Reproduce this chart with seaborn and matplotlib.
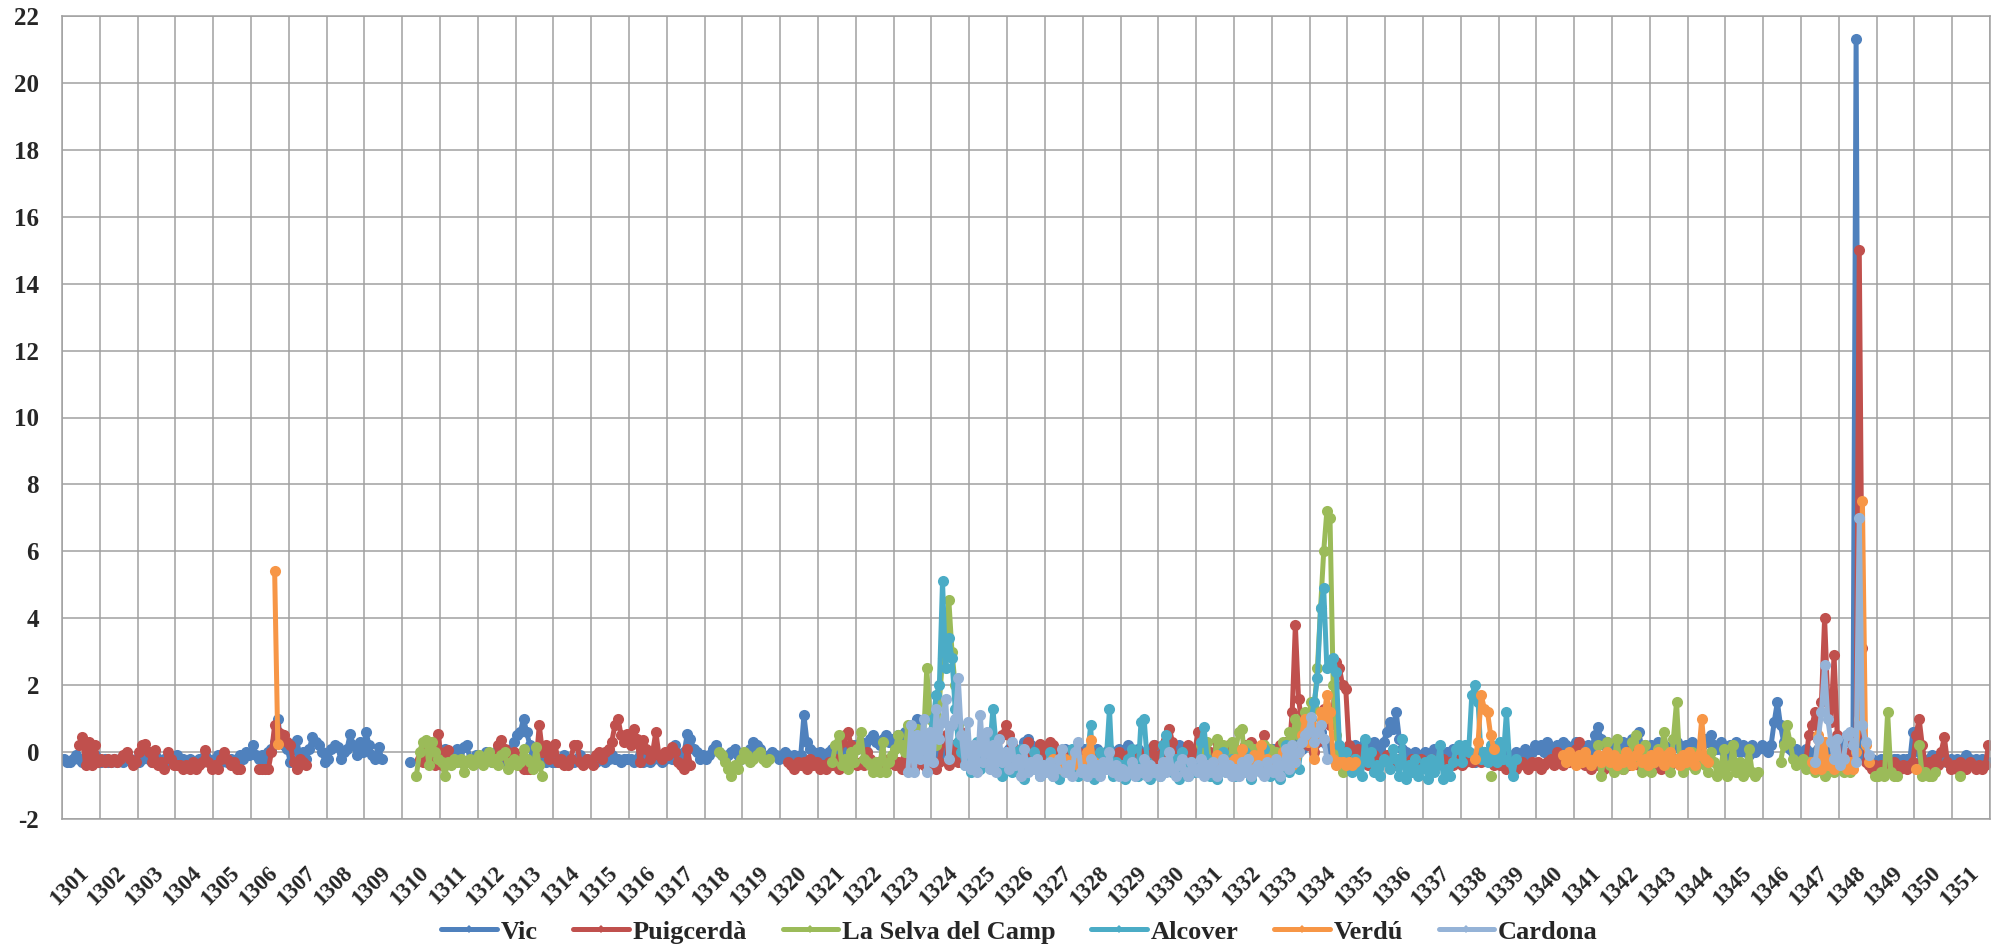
import numpy as np
import pandas as pd
import matplotlib
matplotlib.use("Agg")
import matplotlib.pyplot as plt
import seaborn as sns
from matplotlib.lines import Line2D

# monthly values, one list per continuous run: (first month, values)
vic = [
    ("1301-01", [
        -0.2, -0.3, -0.3, -0.2, -0.1, -0.2, -0.3, -0.2, -0.3, -0.2, -0.1, -0.3,
        -0.3, -0.2, -0.3, -0.3, -0.2, -0.3, -0.2, -0.3, -0.1, -0.2, -0.3, -0.2,
        -0.3, -0.2, -0.1, -0.2, -0.3, -0.1, -0.2, -0.3, -0.2, -0.3, -0.2, -0.3,
        -0.1, -0.3, -0.2, -0.3, -0.2, -0.4, -0.3, -0.2, -0.3, -0.1, -0.2, -0.3,
        -0.2, -0.1, -0.3, -0.2, -0.3, -0.2, -0.3, -0.2, -0.1, -0.2, 0.0, -0.1,
        0.2, -0.1, -0.2, -0.1, -0.2, 0.0, 0.1, 0.3, 1.0, 0.3, 0.2, 0.1,
        -0.3, 0.1, 0.35, -0.1, 0.0, -0.2, 0.1, 0.45, 0.3, 0.2, 0.0, -0.3,
        -0.2, 0.1, 0.2, 0.15, -0.2, 0.0, 0.1, 0.55, 0.2, -0.1, 0.3, 0.0,
        0.6, 0.2, -0.1, -0.2, 0.15, -0.2]),
    ("1310-03", [-0.3]),
    ("1310-11", [
        -0.2, -0.1,
        0.0, 0.1, -0.2, -0.3, -0.1, 0.1, -0.3, 0.15, 0.2, -0.2, -0.3, -0.1,
        -0.3, -0.2, 0.0, -0.1, -0.3, -0.2, 0.1, -0.1, -0.3, -0.2, 0.1, 0.3,
        0.5, 0.6, 1.0, 0.6, 0.2, -0.3, -0.2, -0.3, -0.1, -0.3, -0.2, -0.3,
        -0.3, -0.2, -0.3, -0.1, -0.3, -0.2, -0.3, -0.2, -0.1, -0.3, -0.2, -0.3,
        -0.2, -0.3, -0.1, -0.2, -0.3, -0.2, -0.1, -0.2, -0.2, -0.3, -0.2, -0.2,
        -0.2, -0.3, -0.2, -0.1, -0.3, -0.2, -0.3, -0.2, -0.1, -0.2, -0.3, -0.2,
        -0.1, -0.2, 0.2, -0.1, -0.2, 0.0, 0.55, 0.4, 0.1, 0.0, -0.2, -0.1,
        -0.2, -0.1, 0.1, 0.2, 0.0, -0.1, -0.2, -0.1, 0.0, 0.1, -0.1, -0.2,
        -0.1, 0.0, 0.1, 0.3, 0.2, 0.1, -0.1, -0.2, -0.1, 0.0, -0.1, -0.2,
        -0.1, 0.0, -0.1, -0.2, -0.1, -0.2, -0.1, 1.1, 0.3, 0.1, 0.0, -0.1,
        0.0, -0.2, -0.1, 0.0, 0.1, -0.1, 0.0, 0.2, 0.0, -0.1, 0.1, 0.2,
        0.1, 0.3, 0.2, 0.0, 0.4, 0.5, 0.3, 0.2, 0.4, 0.5, 0.3, 0.4,
        0.3, 0.5, 0.4, 0.6, 0.5, 0.8, 0.6, 1.0, 0.7, 0.3, 0.1, 0.0,
        0.2, 0.1, -0.1, 0.0, 0.1, 0.2, 0.0, -0.1, 0.1, 0.0, -0.1, 0.0,
        0.1, -0.1, 0.0, 0.2, 0.1, 0.0, -0.1, 0.0, 0.1, 0.0, -0.1, 0.0,
        0.1, 0.2, 0.0, -0.1, 0.1, 0.3, 0.4, 0.2, 0.0, 0.1, -0.1, 0.0,
        -0.1, 0.1, 0.0, -0.2, -0.1, 0.0, 0.1, -0.1, 0.0, -0.2, -0.1, 0.0,
        0.1, -0.1, -0.2, 0.0, 0.1, -0.1, -0.2, 0.0, 0.1, 0.0, -0.1, 0.1,
        0.0, -0.1, 0.2, 0.0, -0.1, 0.1, 0.0, -0.2, 0.0, 0.1, 0.2, 0.1,
        0.0, 0.2, 0.1, 0.0, -0.1, 0.1, 0.2, 0.0, -0.1, 0.0, 0.1, 0.0,
        -0.1, 0.1, 0.2, 0.0, -0.2, -0.1, 0.0, 0.1, 0.0, -0.1, 0.0, 0.1,
        0.0, -0.1, 0.0, 0.1, 0.2, 0.0, -0.1, 0.0, 0.1, 0.0, -0.1, 0.0,
        0.1, 0.0, -0.1, 0.1, 0.2, 0.0, 0.1, 0.3, 0.2, 0.1, 0.4, 0.5,
        0.3, 0.2, 0.4, 0.6, 0.3, 0.2, 0.1, 0.0, -0.1, 0.0, 0.1, 0.0,
        -0.1, 0.1, 0.2, 0.0, -0.1, 0.3, 0.2, 0.1, 0.3, 0.2, 0.1, 0.3,
        0.6, 0.9, 0.7, 1.2, 0.4, 0.1, 0.0, -0.2, -0.1, 0.0, -0.2, -0.1,
        0.0, -0.2, -0.1, 0.1, 0.0, -0.1, -0.2, 0.0, -0.1, 0.1, 0.0, -0.1,
        -0.2, -0.1, 0.0, -0.2, -0.3, -0.1, 0.0, -0.2, -0.1, 0.0, -0.2, -0.1,
        -0.2, -0.1, -0.3, -0.2, -0.1, 0.0, -0.2, -0.1, 0.1, -0.1, 0.0, 0.2,
        0.1, 0.2, 0.0, 0.3, 0.1, 0.0, 0.2, 0.1, 0.3, 0.2, 0.0, 0.1,
        0.3, 0.2, 0.0, 0.1, 0.2, 0.0, 0.5, 0.75, 0.4, 0.2, 0.3, 0.1,
        0.0, 0.2, 0.1, 0.3, 0.0, 0.2, 0.4, 0.3, 0.6, 0.1, 0.2, 0.0,
        0.2, 0.1, 0.3, 0.0, 0.2, 0.1, -0.1, 0.2, 0.3, 0.1, 0.0, 0.2,
        0.1, 0.3, 0.2, 0.0, 0.2, 0.4, 0.3, 0.5, 0.2, 0.1, 0.3, 0.0,
        -0.1, 0.2, 0.1, 0.3, 0.0, 0.2, 0.1, -0.1, 0.2, 0.0, 0.1, 0.2,
        0.1, 0.0, 0.2, 0.9, 1.5, 0.8, 0.3, 0.2, 0.1, 0.0, 0.1, 0.0,
        0.0, 0.1, 0.0, -0.1, 0.0, 0.1, 0.0, 0.2, 0.1, 0.0, 0.2, 0.1,
        0.2, 0.3, 0.5, 0.3, 0.4, 21.3, 0.6, -0.1, -0.2, -0.2, -0.2, -0.3,
        -0.3, -0.2, -0.3, -0.2, -0.3, -0.2, -0.2, -0.3, -0.2, -0.2, -0.3, 0.6,
        0.3, 0.0, -0.2, -0.3, -0.2, -0.1, -0.3, -0.2, -0.3, -0.2, -0.3, -0.2,
        -0.3, -0.2, -0.3, -0.2, -0.1, -0.2, -0.3, -0.2, -0.3, -0.2, -0.3, -0.3]),
]

puigcerda = [
    ("1301-06", [
        0.2, 0.45, -0.4, 0.3, -0.4, 0.2, -0.3,
        -0.2, -0.3, -0.2, -0.3, -0.2, -0.3, -0.2, -0.1, 0.0, -0.2, -0.4, -0.3,
        0.0, 0.2, 0.25, 0.0, -0.3, 0.05, -0.4, -0.3, -0.5, 0.0, -0.2, -0.4,
        -0.4, -0.4, -0.5, -0.4, -0.5, -0.3, -0.5, -0.4, -0.3, 0.05, -0.3, -0.5,
        -0.4, -0.5, -0.2, 0.0, -0.2, -0.4, -0.3, -0.5, -0.5]),
    ("1306-03", [
        -0.5, -0.5, -0.5, -0.5, 0.0, 0.8, 0.6, 0.55, 0.5, 0.3,
        0.2, -0.3, -0.5, -0.2, -0.3, -0.4]),
    ("1310-06", [
        -0.2, -0.3, 0.2, -0.3, 0.3, -0.4, 0.55,
        -0.4, 0.0, 0.05, -0.3]),
    ("1312-06", [
        -0.2, 0.2, 0.35, 0.1, -0.2, -0.3, 0.0,
        -0.2, -0.4, -0.5, -0.5, -0.5, -0.4, -0.3, 0.8, 0.0, 0.2, -0.2, 0.0,
        0.25, -0.3, -0.2, -0.4, -0.4, -0.2, 0.2, 0.2, -0.3, -0.4, -0.2, -0.3,
        -0.4, -0.1, 0.0, -0.2, 0.0, 0.1, 0.3, 0.8, 1.0, 0.5, 0.3, 0.55,
        0.2, 0.7, 0.4, -0.3, 0.35, 0.1, -0.2, 0.0, 0.6, -0.1, -0.2, 0.0,
        -0.1, 0.15, 0.0, -0.3, -0.4, -0.5, 0.1, -0.4]),
    ("1320-03", [
        -0.3, -0.4, -0.5, -0.3, -0.4, -0.3, -0.5, -0.2, -0.4, -0.3,
        -0.5, -0.4, -0.5, -0.3, -0.4, -0.2, -0.5, 0.3, 0.5, 0.6, 0.2, -0.3,
        -0.4, -0.3, -0.4, 0.0, -0.2, -0.4, -0.3, -0.5, -0.2, -0.4, -0.3, -0.2,
        -0.4, -0.3, -0.5, -0.2, 0.0, -0.4, -0.5, -0.3, 0.2, -0.4, -0.5, 0.0,
        -0.4, -0.5, -0.3, 0.3, 0.5, -0.4, 0.2, 0.0, -0.3, 0.6, -0.1, -0.3,
        -0.2, 0.1, -0.4, -0.2, 0.3, -0.1, 0.2, -0.3, 0.0, 0.4, 0.5, 0.8,
        0.5, 0.2, -0.3, 0.0, -0.2, 0.1, 0.3, -0.1, -0.3, 0.0, 0.25, 0.1,
        -0.2, 0.3, 0.2, -0.1, -0.3, 0.0, -0.2, -0.4, -0.1, -0.3, 0.0, -0.2,
        -0.4, -0.3, 0.0, -0.2, -0.4, -0.1, -0.3, -0.2, -0.4, -0.1, -0.3, 0.0,
        -0.2, -0.4, -0.1, -0.3, -0.2, 0.0, -0.4, -0.2, -0.3, -0.1, 0.2, -0.3,
        -0.1, 0.2, 0.35, 0.7, 0.3, -0.2, -0.3, 0.0, -0.2, 0.2, 0.0, -0.1,
        0.6, 0.2, -0.1, -0.3, 0.0, -0.2, 0.3, -0.1, -0.3, 0.0, 0.2, -0.2,
        0.1, -0.3, 0.0, 0.2, -0.1, 0.3, 0.0, -0.2, 0.1, 0.5, 0.0, -0.2,
        0.0, -0.3, 0.2, -0.1, 0.3, 0.0, 1.2, 3.8, 1.6, 0.9, 0.6, 0.2,
        0.5, 0.0, 0.3, 0.8, 1.3, 0.9, 0.8, 1.2, 2.7, 2.5, 2.0, 1.9,
        0.2, 0.0, -0.2, 0.1, -0.3, -0.2, -0.4, -0.3, -0.1, -0.2, -0.3, -0.2,
        -0.1, -0.2, -0.3, -0.4, -0.2, -0.3, -0.4, -0.3, -0.2, -0.4, -0.3, -0.2,
        -0.3, -0.4, -0.2, -0.3, -0.4, -0.3, -0.2, -0.4, -0.3, -0.4, -0.2, -0.3,
        -0.4, -0.3, -0.2, -0.3, -0.1, -0.2, -0.3, 0.0, -0.2, -0.3, -0.4, -0.3,
        -0.4, -0.3, -0.5, -0.4, -0.3, -0.5, -0.4, -0.3, -0.4, -0.5, -0.3, -0.4,
        -0.3, -0.5, -0.4, -0.3, -0.2, -0.4, 0.0, -0.3, -0.4, -0.2, -0.3, -0.1,
        0.1, 0.3, -0.2, -0.4, -0.3, -0.5, -0.2, -0.4, -0.3, -0.5, -0.4, -0.2,
        -0.3, -0.4, -0.2, -0.5, -0.3, -0.4, 0.1, -0.3, -0.4, -0.2, -0.5, -0.3,
        -0.4, -0.2, -0.3, -0.5, -0.3, -0.2, -0.4, -0.3, -0.2, -0.4, -0.3, -0.2,
        -0.3, -0.4, -0.2, -0.3, -0.1, -0.3]),
    ("1347-01", [
        -0.2, -0.3, 0.5, 0.8, 1.2, 0.4, 1.5, 4.0, 1.6, 0.9, 2.9, 0.5,
        -0.2, -0.4, -0.3, 0.0, 0.3, 0.5, 15.0, 3.1, -0.3, -0.4, -0.5, -0.4,
        -0.5, -0.4, -0.5, -0.4, -0.5, -0.3, -0.4, -0.5, -0.4, -0.5, -0.4, -0.3,
        0.5, 1.0, 0.2, -0.4, -0.3, -0.5, -0.2, -0.4, 0.0, 0.45, -0.3, -0.5,
        -0.4, -0.5, -0.3, -0.4, -0.5, -0.3, -0.4, -0.5, -0.4, -0.5, -0.4, 0.2]),
]

la_selva = [
    ("1310-05", [
        -0.7, 0.0, 0.3, 0.35, -0.4, 0.3, 0.0, -0.2,
        -0.3, -0.7, -0.3, -0.4, -0.2, -0.3, -0.2, -0.6, -0.3, -0.2, -0.4, -0.3,
        -0.1, -0.4, -0.2, 0.0, -0.3, -0.2, -0.4, -0.1, 0.0, -0.5, -0.3, -0.2,
        -0.4, -0.3, 0.1, -0.2, -0.3, -0.5, 0.15, -0.4, -0.7]),
    ("1318-05", [
        0.0, -0.1, -0.3, -0.5, -0.7, -0.4, -0.5, -0.2,
        0.0, -0.1, -0.3, -0.2, -0.1, 0.0, -0.2, -0.3, -0.2]),
    ("1321-05", [
        -0.3, 0.2, 0.5, -0.4, -0.2, -0.5, 0.0, -0.3,
        0.1, 0.6, -0.2, -0.3, -0.4, -0.6, -0.3, -0.6, 0.3, -0.6, -0.3, -0.1,
        0.1, 0.5, 0.2, 0.0, 0.8, 0.3, 0.6, 0.7, 0.2, 0.4, 2.5, 1.0,
        0.6, 0.2, 1.5, 2.8, 3.2, 4.55, 3.0, 2.0, 0.8, 0.5, 0.3, 0.1,
        -0.1, -0.3]),
    ("1331-01", [
        -0.5, 0.2, -0.6, 0.3, -0.4, -0.7, 0.4, -0.3, 0.2, -0.5, -0.2, 0.3,
        0.0, 0.6, 0.7, -0.3, 0.2, -0.5, 0.1, -0.4, 0.0, 0.2, -0.6, 0.1,
        -0.3, 0.0, -0.5, 0.3, -0.2, 0.6, 0.2, 1.0, 0.5, 0.8, 1.2, 0.6,
        1.5, 1.3, 2.5, 4.3, 6.0, 7.2, 7.0, 2.0, 0.5, 0.0, -0.6, -0.3,
        -0.4, -0.5, -0.2, -0.4]),
    ("1338-10", [-0.7]),
    ("1341-08", [
        0.2, -0.7, -0.2, 0.3, -0.4,
        -0.6, 0.4, -0.2, -0.5, 0.0, -0.3, 0.3, 0.5, -0.2, -0.6, 0.2, -0.4,
        -0.6, -0.3, 0.1, -0.2, 0.6, 0.0, -0.6, 0.4, 1.5, -0.3, -0.6, -0.4,
        -0.2, 0.0, -0.5, -0.3, -0.1, -0.4, -0.6, 0.0, -0.3, -0.7, -0.5, 0.1,
        -0.7, -0.4, 0.2, -0.6, -0.3, -0.7, -0.5, 0.1, -0.6, -0.7, -0.6]),
    ("1346-06", [
        -0.3, 0.2, 0.8, 0.3, -0.2, -0.4, -0.3,
        -0.2, -0.5, -0.3, -0.4, -0.6, -0.2, -0.4, -0.7, -0.5, -0.3, -0.6, -0.5,
        -0.4, -0.6, -0.5, -0.6]),
    ("1348-12", [-0.7, -0.7, -0.6, -0.7, 1.2, -0.6, -0.7, -0.7]),
    ("1350-02", [0.2, -0.7, -0.6, -0.7, -0.7, -0.6]),
    ("1351-03", [-0.7]),
]

alcover = [
    ("1323-12", [
        0.5,
        1.0, 1.7, 2.0, 5.1, 2.5, 3.4, 2.8, 1.3, 0.3, 0.0, -0.4, 0.2,
        -0.6, -0.2, 0.3, -0.5, 0.0, -0.3, 0.1, 1.3, 0.2, -0.5, -0.7, -0.3,
        -0.2, -0.6, 0.0, -0.4, 0.1, -0.8, -0.3, -0.5, 0.0, -0.2, -0.7, -0.4,
        -0.5, 0.0, -0.7, -0.3, -0.8, -0.2, -0.5, -0.6, 0.1, -0.4, -0.7, -0.3,
        -0.6, -0.2, 0.8, -0.8, -0.4, 0.0, -0.5, -0.2, 1.3, -0.7, -0.3, -0.6,
        -0.4, -0.8, -0.2, 0.1, -0.5, -0.7, 0.9, 1.0, -0.3, -0.8, -0.5, -0.6,
        -0.7, 0.2, 0.5, -0.4, -0.6, -0.2, -0.8, 0.0, -0.5, -0.7, -0.3, -0.6,
        -0.4, 0.3, 0.75, -0.2, -0.7, -0.4, -0.8, -0.3, 0.0, -0.6, -0.5, -0.2,
        -0.7, -0.3, -0.6, 0.0, -0.5, -0.8, -0.2, -0.4, -0.6, 0.1, -0.3, -0.7,
        -0.5, -0.2, -0.8, -0.4, 0.2, -0.6, -0.3, 0.0, -0.5, 0.3, 0.6, 0.8,
        1.0, 1.5, 2.2, 4.3, 4.9, 2.5, 2.6, 2.8, 2.4, 0.2, -0.3, 0.0,
        -0.4, -0.6, -0.2, -0.5, -0.7, 0.4, -0.3, 0.0, -0.6, -0.4, -0.7, -0.2,
        -0.3, -0.5, 0.1, -0.2, -0.7, 0.4, -0.8, -0.4, -0.6, -0.2, -0.7, -0.5,
        -0.3, -0.8, -0.2, -0.6, -0.4, 0.2, -0.8, -0.5, -0.7, -0.3, 0.1, 0.2,
        -0.3, 0.2, 0.0, 1.7, 2.0, 1.5, -0.2, 0.0, -0.3, 0.2, -0.1, -0.3,
        0.3, -0.2, 1.2, -0.3, -0.7, -0.2]),
]

verdu = [
    ("1306-08", [5.4, 0.25]),
    ("1327-03", [
        -0.2, -0.4, -0.3, -0.5, -0.2, -0.4, -0.3, -0.1, -0.4, -0.3,
        -0.2, 0.0, 0.35, -0.3, -0.4]),
    ("1331-06", [
        -0.3, -0.1, -0.4, -0.2, -0.3, -0.5, -0.3,
        -0.2, -0.4, 0.1, -0.3, -0.2, -0.5, -0.1, -0.3, 0.2, -0.4, -0.2, -0.3,
        -0.5, -0.2, -0.4, 0.0, -0.3, -0.1, -0.4, -0.2, 0.0, 0.5, 1.0, 0.3,
        0.8, -0.2, 0.5, 1.2, 1.0, 1.7, 1.2, -0.2, -0.4, -0.3, -0.3, -0.4,
        -0.3, -0.4, -0.3]),
    ("1338-05", [-0.2, 0.3, 1.7, 1.3, 1.2, 0.5, 0.1]),
    ("1340-09", [
        -0.1, -0.3, 0.0, -0.2,
        -0.4, -0.1, -0.3, 0.0, -0.2, -0.4, -0.2, -0.1, -0.3, -0.2, 0.0, -0.3,
        -0.1, -0.4, -0.2, -0.3, 0.0, -0.2, -0.4, -0.1, 0.1, -0.3, -0.2, -0.4,
        -0.1, -0.3, 0.0, -0.2, -0.4, -0.1, 0.0, -0.3, -0.2, -0.4, -0.1, -0.3,
        0.0, -0.2, -0.4, -0.1, 1.0, -0.2, -0.3]),
    ("1347-04", [
        -0.3, -0.5, 0.5, -0.5, 0.3, -0.4, -0.2, -0.5, -0.3,
        -0.4, -0.2, -0.5, -0.3, -0.5, 0.0, 1.0, 7.5, 0.2, -0.3]),
    ("1350-01", [-0.5]),
]

cardona = [
    ("1323-05", [
        -0.6, 0.8, -0.6, 0.5, -0.2, 1.0, -0.6, 0.6,
        -0.3, 1.3, 0.4, 0.9, 1.6, -0.2, 0.8, 1.0, 2.2, 0.5, -0.4, 0.9,
        -0.5, 0.2, -0.6, 1.1, -0.3, 0.6, -0.5, 0.2, -0.6, 0.4, -0.3, 0.0,
        -0.5, 0.3, -0.4, -0.2, -0.7, 0.1, -0.6, -0.3, -0.5, -0.2, -0.7, -0.4,
        -0.6, -0.3, -0.7, -0.5, -0.2, 0.1, -0.6, -0.4, -0.7, 0.0, 0.3, -0.6,
        -0.5, -0.7, -0.2, -0.6, -0.4, -0.7, -0.3, -0.5, 0.0, -0.6, -0.4, -0.7,
        -0.5, -0.7, -0.6, -0.3, -0.7, -0.5, -0.6, -0.2, -0.7, -0.4, -0.6, -0.5,
        -0.7, -0.3, -0.6, 0.0, -0.5, -0.7, -0.4, -0.2, -0.6, -0.7, -0.3, -0.5,
        -0.6, -0.2, -0.7, -0.4, -0.6, -0.3, -0.7, -0.5, -0.2, -0.6, -0.4, -0.7,
        -0.5, -0.7, -0.3, -0.6, -0.2, -0.7, -0.5, -0.4, -0.6, -0.7, -0.3, -0.5,
        -0.6, -0.2, -0.7, -0.4, 0.1, -0.5, 0.2, -0.3, 0.0, 0.3, 0.5, 0.6,
        1.05, 0.3, 0.6, 0.8, 0.4, -0.2]),
    ("1347-05", [
        -0.3, 0.4, 1.2, 2.6, 1.0, 0.3, -0.2, 0.4,
        -0.4, -0.2, 0.5, 0.6, 0.2, -0.3, 7.0, 0.8, 0.3, -0.1]),
]

site_names = ["Vic", "Puigcerdà", "La Selva del Camp", "Alcover", "Verdú", "Cardona"]
site_colors = ["#4F81BD", "#C0504D", "#9BBB59", "#4BACC6", "#F79646", "#95B3D7"]
year_labels = [str(y) for y in range(1301, 1352)]


def month_index(start):
    y, m = start.split("-")
    return (int(y) - 1301) * 12 + int(m) - 1


rows = []
for name, segs in zip(site_names, [vic, puigcerda, la_selva, alcover, verdu, cardona]):
    for j, (start, vals) in enumerate(segs):
        m0 = month_index(start)
        for i, v in enumerate(vals):
            rows.append((name, f"{name}_{j}", m0 + i, v))
df = pd.DataFrame(rows, columns=["site", "seg", "month", "value"])
df = df[df["month"] < 612]

sns.set_style("white")
plt.rcParams["font.family"] = ["Liberation Serif", "DejaVu Serif"]

W, H = 2007, 951
fig = plt.figure(figsize=(W / 100, H / 100), dpi=100)
ax = fig.add_axes([62 / W, 1 - 819 / H, (1990 - 62) / W, (819 - 16) / H])

sns.lineplot(data=df, x="month", y="value", hue="site", hue_order=site_names,
             palette=site_colors, units="seg", estimator=None, sort=False,
             marker="o", markersize=8, markeredgewidth=0, linewidth=3.6,
             legend=False, ax=ax)

grid_col = "#A0A0A0"
n_years = len(year_labels)
ax.set_xlim(-0.5, n_years * 12 - 0.5)
ax.set_ylim(-2, 22)
ax.set_yticks(range(-2, 23, 2))
ax.set_xticks(np.arange(n_years + 1) * 12 - 0.5)
ax.set_xticklabels([])
ax.set_xticks(np.arange(n_years) * 12 + 4.5, minor=True)
ax.set_xticklabels(year_labels, minor=True, rotation=45, ha="right", va="top",
                   rotation_mode="anchor", fontsize=16.5, fontweight="bold")
ax.set_yticklabels([str(t) for t in range(-2, 23, 2)], fontsize=18, fontweight="bold")
ax.tick_params(axis="x", which="both", length=0)
ax.tick_params(axis="x", which="minor", pad=31)
ax.tick_params(axis="y", length=6.5, width=1.1, color=grid_col, pad=10)
ax.grid(True, which="major", color=grid_col, linewidth=1.1)
ax.set_axisbelow(True)
for sp in ax.spines.values():
    sp.set_color(grid_col)
    sp.set_linewidth(1.1)
ax.set_xlabel("")
ax.set_ylabel("")

handles = [Line2D([], [], color=c, lw=3.6, marker="D", markersize=4, markeredgewidth=0)
           for c in site_colors]
fig.legend(handles, site_names, loc="center", bbox_to_anchor=(0.508, 0.02), ncol=6,
           frameon=False, handlelength=2.1, handletextpad=0.15, columnspacing=1.35,
           prop={"family": "Liberation Serif", "weight": "bold", "size": 19})

fig.savefig("out.png", dpi=100)
